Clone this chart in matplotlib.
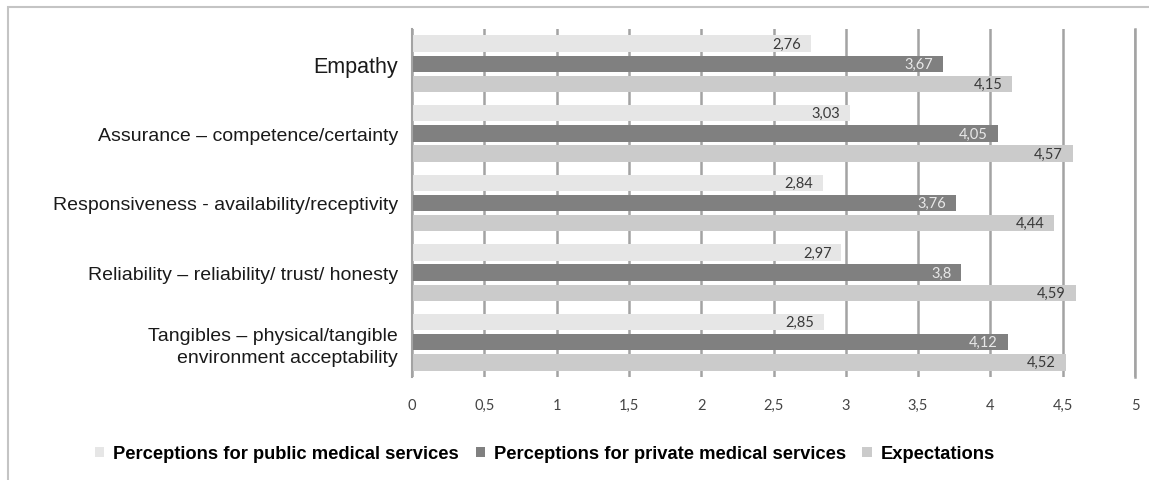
import matplotlib.pyplot as plt
from matplotlib.patches import Patch, Rectangle
import numpy as np

# Dimensions of service quality, listed top to bottom
categories = [
    'Empathy',
    'Assurance \u2013 competence/certainty',
    'Responsiveness - availability/receptivity',
    'Reliability \u2013 reliability/ trust/ honesty',
    'Tangibles \u2013 physical/tangible\nenvironment acceptability',
]
public_perc = [2.76, 3.03, 2.84, 2.97, 2.85]
private_perc = [3.67, 4.05, 3.76, 3.8, 4.12]
expectations = [4.15, 4.57, 4.44, 4.59, 4.52]

series_names = ['Perceptions for public medical services',
                'Perceptions for private medical services',
                'Expectations']
x_ticks = [0, 0.5, 1, 1.5, 2, 2.5, 3, 3.5, 4, 4.5, 5]
x_tick_labels = ['0', '0,5', '1', '1,5', '2', '2,5', '3', '3,5', '4', '4,5', '5']

fig = plt.figure(figsize=(11.49, 4.81), dpi=100)
ax = fig.add_axes([412 / 1149, 1 - 378 / 481, (1135 - 412) / 1149, (378 - 30) / 481])

# Light frame around the whole chart
fig.patches.append(Rectangle((8 / 1149, -0.1), 1.2, 1 - 8 / 481 + 0.1,
                             transform=fig.transFigure, fill=False,
                             edgecolor='#c4c4c4', lw=1.5))

colors = ['#e6e6e6', '#808080', '#cbcbcb']
text_colors = ['#3a3a3a', '#e8e8e8', '#3a3a3a']
step = 0.29
height = 0.235

y = np.arange(len(categories))[::-1]
all_series = [public_perc, private_perc, expectations]
for i, values in enumerate(all_series):
    ypos = y + (1 - i) * step
    ax.barh(ypos, values, height=height, color=colors[i], label=series_names[i], zorder=2)
    for yp, v in zip(ypos, values):
        ax.annotate(str(v).replace('.', ','), (v, yp), xytext=(-7, 0),
                    textcoords='offset points', ha='right', va='center',
                    fontsize=10.5, family='Lato', color=text_colors[i], zorder=3)

ax.set_xlim(0, 5)
ax.set_ylim(-0.5, len(categories) - 0.5)
ax.set_xticks(x_ticks)
ax.set_xticklabels(x_tick_labels, family='Lato', fontsize=10.5, color='#444444')
ax.set_yticks(y)
ax.set_yticklabels(categories, fontsize=14, color='#1a1a1a',
                   family='Liberation Sans', multialignment='right', linespacing=1.35)
ax.get_yticklabels()[0].set_fontsize(15.5)
ax.tick_params(axis='x', length=0, pad=15)
ax.tick_params(axis='y', length=0, pad=10)

ax.grid(axis='x', color='#a3a3a3', lw=1.8, zorder=0)
ax.set_axisbelow(True)
for side in ['top', 'bottom']:
    ax.spines[side].set_visible(False)
ax.spines['left'].set_color('#a3a3a3')
ax.spines['left'].set_linewidth(1.5)
ax.spines['right'].set_color('#a3a3a3')
ax.spines['right'].set_linewidth(1.8)

# Legend below the plot
handles = [Patch(facecolor=c, edgecolor='none') for c in colors]
fig.legend(handles, series_names, loc='center', bbox_to_anchor=(545 / 1149, 1 - 455 / 481),
           ncol=3, frameon=False, handlelength=0.5, handleheight=0.5, handletextpad=0.5,
           columnspacing=0.9, prop={'family': 'Liberation Sans', 'weight': 'bold', 'size': 13.2})

fig.savefig('out.png', dpi=100, facecolor='white')
